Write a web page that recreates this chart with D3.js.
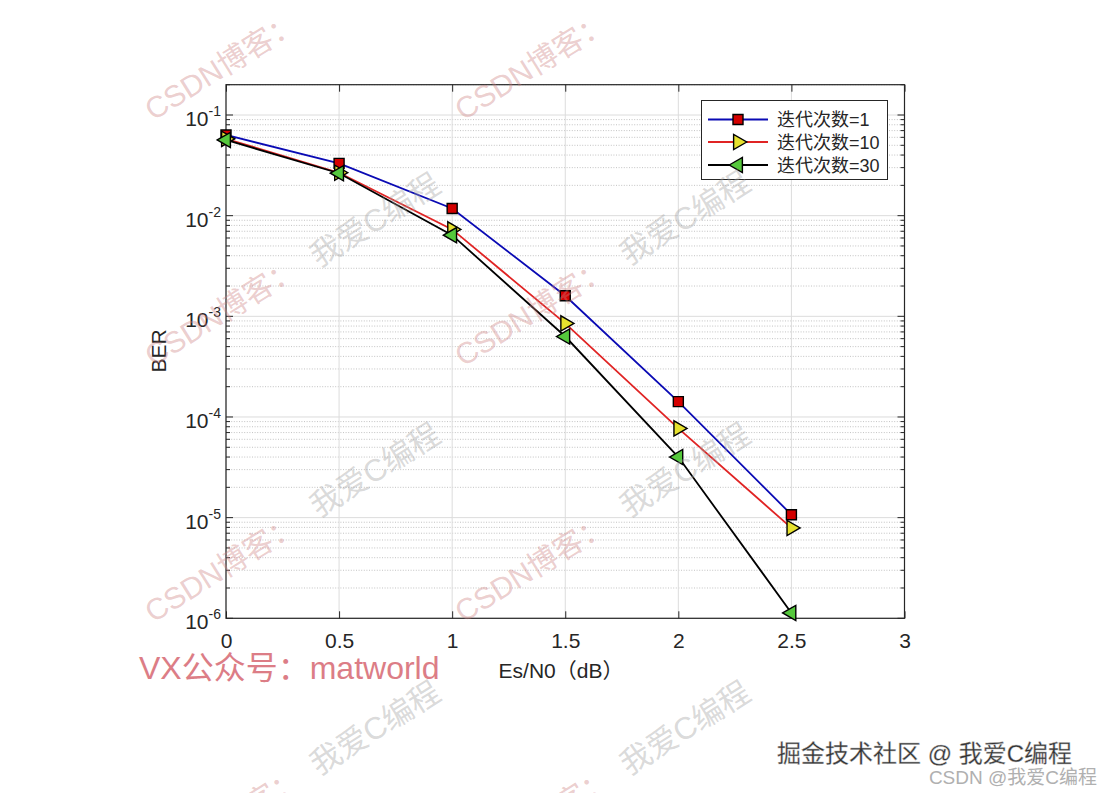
<!DOCTYPE html>
<head>
<meta charset="utf-8">
<title>BER</title>
<script type="text/javascript" src="https://d3js.org/d3.v7.min.js"></script>
<style>
body { margin: 0; background: #fff; }
text { font-family: "Liberation Sans", Arial, "Noto Sans CJK SC", sans-serif; }
</style>
</head>
<body>
<div id="chart"></div>
<script>
// data
var snr = [0, 0.5, 1, 1.5, 2, 2.5];
var ber1 = [0.0633, 0.0331, 0.0118, 0.0016, 1.42e-4, 1.07e-5];
var ber10 = [0.058, 0.0267, 0.0073, 8.5e-4, 7.7e-5, 7.9e-6];
var ber30 = [0.0565, 0.0264, 0.0064, 6.3e-4, 4.0e-5, 1.13e-6];
var seriesNames = ["迭代次数=1", "迭代次数=10", "迭代次数=30"];
var xTicks = [0, 0.5, 1, 1.5, 2, 2.5, 3];
var yExps = [-6, -5, -4, -3, -2, -1];

var W = 1102, H = 793;
var pLeft = 226, pRight = 904.5, pTop = 84.7, pBottom = 618.3;

var svg = d3.select("#chart").append("svg")
    .attr("width", W).attr("height", H);

svg.append("rect").attr("width", W).attr("height", H).attr("fill", "#fff");

var xScale = d3.scaleLinear().domain([0, 3]).range([pLeft, pRight]);
var yScale = d3.scaleLog().domain([1e-6, 0.2]).range([pBottom, pTop]);

// minor + major values on log axis
var minorVals = [];
yExps.forEach(function(e) {
  for (var k = 2; k <= 9; k++) {
    var v = k * Math.pow(10, e);
    if (v <= 0.2 + 1e-12) minorVals.push(v);
  }
});
var majorVals = yExps.map(function(e) { return Math.pow(10, e); });

//*******************************
// grid
//*******************************
var grid = svg.append("g");
grid.selectAll(".ymin").data(minorVals).enter().append("line")
    .attr("x1", pLeft).attr("x2", pRight)
    .attr("y1", function(d) { return yScale(d); })
    .attr("y2", function(d) { return yScale(d); })
    .attr("stroke", "#bcbcbc").attr("stroke-width", 0.9)
    .attr("stroke-dasharray", "1,1.6");
grid.selectAll(".ymaj").data(majorVals).enter().append("line")
    .attr("x1", pLeft).attr("x2", pRight)
    .attr("y1", function(d) { return yScale(d); })
    .attr("y2", function(d) { return yScale(d); })
    .attr("stroke", "#dcdcdc").attr("stroke-width", 1);
grid.selectAll(".xmaj").data(xTicks).enter().append("line")
    .attr("y1", pTop).attr("y2", pBottom)
    .attr("x1", function(d) { return xScale(d); })
    .attr("x2", function(d) { return xScale(d); })
    .attr("stroke", "#dcdcdc").attr("stroke-width", 1);

//*******************************
// axes (ticks inside, box)
//*******************************
var axisColor = "#262626";

svg.append("g").attr("transform", "translate(0," + pBottom + ")")
  .call(d3.axisBottom(xScale).tickValues(xTicks).tickSizeInner(-7).tickSizeOuter(0)
        .tickFormat(d3.format("")))
  .call(function(g) {
    g.select(".domain").remove();
    g.selectAll("line").attr("stroke", axisColor);
    g.selectAll("text").attr("y", 15).attr("dy", "0.71em")
      .attr("fill", axisColor).style("font-size", "21px");
  });

svg.append("g").attr("transform", "translate(0," + pTop + ")")
  .call(d3.axisTop(xScale).tickValues(xTicks).tickSizeInner(-7).tickSizeOuter(0)
        .tickFormat(""))
  .call(function(g) {
    g.select(".domain").remove();
    g.selectAll("line").attr("stroke", axisColor);
  });

// y: major + minor ticks both sides
[[pLeft, 1], [pRight, -1]].forEach(function(side) {
  var g = svg.append("g");
  g.selectAll(".mj").data(majorVals).enter().append("line")
    .attr("x1", side[0]).attr("x2", side[0] + side[1] * 7)
    .attr("y1", function(d) { return yScale(d); })
    .attr("y2", function(d) { return yScale(d); })
    .attr("stroke", axisColor);
  g.selectAll(".mn").data(minorVals).enter().append("line")
    .attr("x1", side[0]).attr("x2", side[0] + side[1] * 4)
    .attr("y1", function(d) { return yScale(d); })
    .attr("y2", function(d) { return yScale(d); })
    .attr("stroke", axisColor);
});

// y tick labels 10^n
var ylab = svg.append("g").selectAll("text").data(yExps).enter().append("text")
    .attr("x", 221)
    .attr("y", function(d) { return yScale(Math.pow(10, d)) + 11; })
    .attr("text-anchor", "end")
    .attr("fill", axisColor)
    .style("font-size", "21px");
ylab.append("tspan").text("10");
ylab.append("tspan").attr("dy", -10).style("font-size", "14px")
    .text(function(d) { return "-" + Math.abs(d); });

// box
svg.append("rect")
  .attr("x", pLeft).attr("y", pTop)
  .attr("width", pRight - pLeft).attr("height", pBottom - pTop)
  .attr("fill", "none").attr("stroke", axisColor).attr("stroke-width", 1.2);

// axis labels
svg.append("text")
  .attr("x", 561).attr("y", 678)
  .attr("text-anchor", "middle")
  .attr("fill", axisColor)
  .style("font-size", "21px")
  .text("Es/N0（dB）");

svg.append("text")
  .attr("transform", "translate(166,351) rotate(-90)")
  .attr("text-anchor", "middle")
  .attr("fill", axisColor)
  .style("font-size", "21px")
  .text("BER");

//*******************************
// lines + markers
//*******************************
var series = [
  { vals: ber1, color: "#0a0ab4", fill: "#d40000", shape: d3.symbolSquare, size: 100, rot: 0 },
  { vals: ber10, color: "#e02424", fill: "#e6e12e", shape: d3.symbolTriangle, size: 100, rot: 90 },
  { vals: ber30, color: "#000000", fill: "#55c83c", shape: d3.symbolTriangle, size: 100, rot: -90 }
];

var line = d3.line()
  .x(function(d) { return xScale(d[0]); })
  .y(function(d) { return yScale(d[1]); });

series.forEach(function(s) {
  var pts = snr.map(function(x, i) { return [x, s.vals[i]]; });
  svg.append("path")
    .datum(pts)
    .attr("fill", "none")
    .attr("stroke", s.color)
    .attr("stroke-width", 1.8)
    .attr("d", line);
});

series.forEach(function(s) {
  var pts = snr.map(function(x, i) { return [x, s.vals[i]]; });
  svg.append("g").selectAll("path").data(pts).enter().append("path")
    .attr("transform", function(d) {
      return "translate(" + xScale(d[0]) + "," + yScale(d[1]) + ") rotate(" + s.rot + ")";
    })
    .attr("d", d3.symbol().type(s.shape).size(s.size))
    .attr("fill", s.fill)
    .attr("stroke", "#000")
    .attr("stroke-width", 1.4);
});

//**********************
// legend
//**********************
var lg = svg.append("g");
lg.append("rect")
  .attr("x", 701.5).attr("y", 100.5)
  .attr("width", 186).attr("height", 79)
  .attr("fill", "#fff").attr("stroke", axisColor).attr("stroke-width", 1);

var legY = [119.5, 142, 165];
series.forEach(function(s, i) {
  lg.append("line")
    .attr("x1", 708).attr("x2", 768)
    .attr("y1", legY[i]).attr("y2", legY[i])
    .attr("stroke", s.color).attr("stroke-width", 1.8);
  lg.append("path")
    .attr("transform", "translate(738," + legY[i] + ") rotate(" + s.rot + ")")
    .attr("d", d3.symbol().type(s.shape).size(s.size))
    .attr("fill", s.fill).attr("stroke", "#000").attr("stroke-width", 1.4);
  lg.append("text")
    .attr("x", 777).attr("y", legY[i] + 6.5)
    .attr("fill", axisColor)
    .style("font-size", "18px")
    .text(seriesNames[i]);
});

//**********************
// watermarks
//**********************
var wmCsdn = [[222, 66], [532, 66], [222, 312], [532, 312], [222, 568], [532, 568], [225, 822], [535, 822]];
var wmMe = [[375, 220], [685, 218], [375, 470], [685, 470], [375, 728], [685, 728]];

svg.append("g").selectAll("text").data(wmCsdn).enter().append("text")
  .attr("transform", function(d) { return "translate(" + d[0] + "," + d[1] + ") rotate(-32)"; })
  .attr("text-anchor", "middle").attr("dy", "0.35em")
  .attr("fill", "rgba(205,130,130,0.4)")
  .style("font-size", "30px")
  .text("CSDN博客：");

svg.append("g").selectAll("text").data(wmMe).enter().append("text")
  .attr("transform", function(d) { return "translate(" + d[0] + "," + d[1] + ") rotate(-32)"; })
  .attr("text-anchor", "middle").attr("dy", "0.35em")
  .attr("fill", "rgba(160,160,160,0.4)")
  .style("font-size", "31px")
  .text("我爱C编程");

svg.append("text")
  .attr("x", 139).attr("y", 679)
  .attr("fill", "#dc7d86")
  .style("font-size", "32px")
  .text("VX公众号：matworld");

svg.append("text")
  .attr("x", 777).attr("y", 762)
  .attr("fill", "#333")
  .attr("stroke", "#bbb")
  .attr("stroke-width", 0.4)
  .style("font-size", "24px")
  .text("掘金技术社区 @ 我爱C编程");

svg.append("text")
  .attr("x", 1097).attr("y", 784)
  .attr("text-anchor", "end")
  .attr("fill", "#b0b0b0")
  .style("font-size", "19px")
  .text("CSDN @我爱C编程");
</script>
</body>
